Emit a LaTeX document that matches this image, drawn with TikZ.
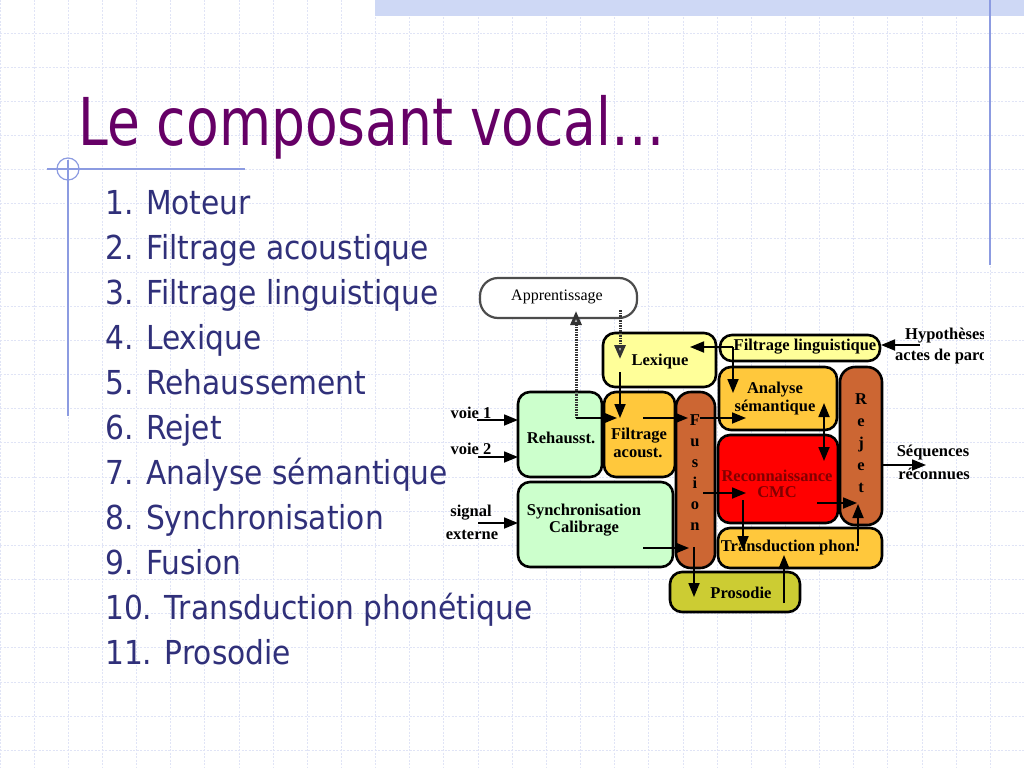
\documentclass[tikz,border=0pt]{standalone}
\usepackage{fontspec}
\usetikzlibrary{arrows.meta,fit}
\newfontfamily\slidefont[FakeStretch=0.9]{DejaVu Sans}
\newfontfamily\titlefont[FakeStretch=0.81]{DejaVu Sans}
\newfontfamily\diafont{Liberation Serif}
\definecolor{titlec}{RGB}{102,0,102}
\definecolor{listc}{RGB}{48,48,122}
\definecolor{gridc}{RGB}{224,228,246}
\definecolor{deco}{RGB}{140,155,225}
\definecolor{band}{RGB}{206,216,245}
\definecolor{lgreen}{RGB}{204,255,204}
\definecolor{lyellow}{RGB}{255,255,153}
\definecolor{orangey}{RGB}{255,200,60}
\definecolor{brownr}{RGB}{204,102,51}
\definecolor{olivey}{RGB}{204,204,51}
\definecolor{darkred}{RGB}{130,0,0}
\begin{document}
\begin{tikzpicture}[x=1pt,y=-1pt,
 box/.style={draw=black,line width=2.6pt,rounded corners=12pt,inner sep=0pt},
 lbl/.style={font=\diafont\bfseries\fontsize{16.5}{18}\selectfont,inner sep=0pt,align=center},
 arr/.style={line width=1.8pt,-{Triangle[length=14pt,width=11pt]}},
 dotline/.style={draw=gray!40!black,line width=3pt,dash pattern=on 1.5pt off 1pt},
 dotarr/.style={dotline,-{Triangle[length=14pt,width=11pt,color=gray!40!black,fill=gray!55]}},
 item/.style={font=\slidefont\fontsize{33}{40}\selectfont,text=listc,anchor=base west,inner sep=0pt}]
\useasboundingbox (0,0) rectangle (1024,768);
\fill[white] (0,0) rectangle (1024,768);
% grid
\foreach \i in {0,...,30}
  \draw[gridc,dash pattern=on 2pt off 1.5pt,line width=1pt] ({34.15*\i},0) -- ({34.15*\i},768);
\foreach \i in {1,...,22}
  \draw[gridc,dash pattern=on 2pt off 1.5pt,line width=1pt] (0,{34.15*\i-1}) -- (1024,{34.15*\i-1});
% top band and decorations
\fill[band] (375,0) rectangle (1024,16);
\draw[deco,line width=1.5pt] (990,0) -- (990,265);
\draw[deco,line width=1.2pt] (47,169) -- (245,169);
\draw[deco,line width=1.2pt] (68,160) -- (68,416);
\draw[deco,line width=1.2pt] (68,169) circle[radius=11];
% title
\node[font=\titlefont\fontsize{66}{70}\selectfont,text=titlec,anchor=base west,inner sep=0pt] (title) at (78,145) {Le composant vocal…};
% list
\foreach \t [count=\k from 0] in {1. Moteur,2. Filtrage acoustique,3. Filtrage linguistique,4. Lexique,5. Rehaussement,6. Rejet,7. Analyse sémantique,8. Synchronisation,9. Fusion,10. Transduction phonétique,11. Prosodie}
  \node[item] (it\k) at (105,{214+45*\k}) {\t};
% boxes
\node[box,draw=gray!60!black,line width=2.2pt,rounded corners=18pt,fill=white,fit={(480,278) (637,318)}] (appr) {};
\node[box,fill=lyellow,fit={(603,333) (716,387)}] (lex) {};
\node[box,fill=lyellow,fit={(720,335) (880,361)}] (filt) {};
\node[box,fill=orangey,fit={(719,367) (837,430)}] (anal) {};
\node[box,fill=brownr,rounded corners=15pt,fit={(840,367) (882,525)}] (rejet) {};
\node[box,fill=lgreen,fit={(518,392) (602,477)}] (reh) {};
\node[box,fill=orangey,fit={(604,392) (675,477)}] (facou) {};
\node[box,fill=brownr,rounded corners=15pt,fit={(676,392) (715,568)}] (fus) {};
\node[box,fill=red,fit={(718,435) (838,523)}] (reco) {};
\node[box,fill=lgreen,fit={(518,482) (673,567)}] (sync) {};
\node[box,fill=orangey,fit={(718,528) (882,568)}] (trans) {};
\node[box,fill=olivey,fit={(670,572) (800,612)}] (pros) {};
% labels
\node[font=\diafont\fontsize{16}{18}\selectfont,inner sep=0pt] (tappr) at (557,297) {Apprentissage};
\node[lbl] (tlex) at (660,362) {Lexique};
\node[lbl] (tfilt) at (805,347) {Filtrage linguistique};
\node[lbl] (tanal1) at (775,390) {Analyse};
\node[lbl] (tanal2) at (775,408) {sémantique};
\node[lbl] (treh) at (561,438) {Rehausst.};
\node[lbl] (tfac1) at (639,436) {Filtrage};
\node[lbl] (tfac2) at (638,453) {acoust.};
\node[lbl,text=darkred] (treco1) at (777,476) {Reconnaissance};
\node[lbl,text=darkred] (treco2) at (777,492) {CMC};
\node[lbl] (tsync1) at (584,512) {Synchronisation};
\node[lbl] (tsync2) at (584,529) {Calibrage};
\node[lbl] (ttrans) at (790,548) {Transduction phon.};
\node[lbl] (tpros) at (741,593) {Prosodie};
\node[lbl,font=\diafont\bfseries\fontsize{16.5}{21}\selectfont] (tfus) at (695,473) {F\\u\\s\\i\\o\\n};
\node[lbl,font=\diafont\bfseries\fontsize{16.5}{22}\selectfont] (trej) at (861,443) {R\\e\\j\\e\\t};
\node[lbl] (tv1) at (471,413) {voie 1};
\node[lbl] (tv2) at (471,449) {voie 2};
\node[lbl] (tsig1) at (471,513) {signal};
\node[lbl] (tsig2) at (472,535) {externe};
\node[lbl] (tseq1) at (933,453) {Séquences};
\node[lbl] (tseq2) at (934,474) {réconnues};
\begin{scope}
\clip (880,320) rectangle (983,372);
\node[lbl,anchor=west] (thyp1) at (905,336) {Hypothèses};
\node[lbl,anchor=west] (thyp2) at (895,357) {actes de parole};
\end{scope}
% connector points
\coordinate (v1s) at (477,420); \coordinate (v1e) at (518,420);
\coordinate (v2s) at (478,457); \coordinate (v2e) at (518,457);
\coordinate (sgs) at (478,523); \coordinate (sge) at (518,523);
\coordinate (apB) at (576,418); \coordinate (apT) at (576,311);
\coordinate (faIn) at (617,418);
\coordinate (lxT) at (620,310); \coordinate (lxB) at (620,359);
\coordinate (lxS) at (620,372); \coordinate (lxE) at (620,418);
\coordinate (faS) at (643,418); \coordinate (fuE) at (688,418);
\coordinate (fuS) at (700,418); \coordinate (anE) at (746,418);
\coordinate (flC) at (733,347); \coordinate (lxR) at (690,347);
\coordinate (anT) at (733,393);
\coordinate (hyS) at (920,345); \coordinate (flR) at (881,345);
\coordinate (arT) at (824,403); \coordinate (arB) at (824,461);
\coordinate (rjS) at (883,465); \coordinate (sqE) at (926,465);
\coordinate (fr1) at (703,493); \coordinate (fr2) at (746,493);
\coordinate (rr1) at (817,503); \coordinate (rr2) at (857,503);
\coordinate (tr1) at (858,546); \coordinate (tr2) at (858,504);
\coordinate (rt1) at (743,500); \coordinate (rt2) at (743,550);
\coordinate (pt1) at (784,603); \coordinate (pt2) at (784,555);
\coordinate (fp1) at (694,547); \coordinate (fp2) at (694,597);
\coordinate (sf1) at (643,548); \coordinate (sf2) at (689,548);
% connectors
\draw[arr] (v1s) -- (v1e);
\draw[arr] (v2s) -- (v2e);
\draw[arr] (sgs) -- (sge);
\draw[dotarr] (apB) -- (apT);
\draw[arr] (apB) -- (faIn);
\draw[dotarr] (lxT) -- (lxB);
\draw[arr] (lxS) -- (lxE);
\draw[arr] (faS) -- (fuE);
\draw[arr] (fuS) -- (anE);
\draw[arr] (flC) -- (lxR);
\draw[arr] (flC) -- (anT);
\draw[arr] (hyS) -- (flR);
\draw[line width=1.8pt,{Triangle[length=14pt,width=11pt]}-{Triangle[length=14pt,width=11pt]}] (arT) -- (arB);
\draw[arr] (rjS) -- (sqE);
\draw[arr] (fr1) -- (fr2);
\draw[arr] (rr1) -- (rr2);
\draw[arr] (tr1) -- (tr2);
\draw[arr] (rt1) -- (rt2);
\draw[arr] (pt1) -- (pt2);
\draw[arr] (fp1) -- (fp2);
\draw[arr] (sf1) -- (sf2);
\end{tikzpicture}
\end{document}
